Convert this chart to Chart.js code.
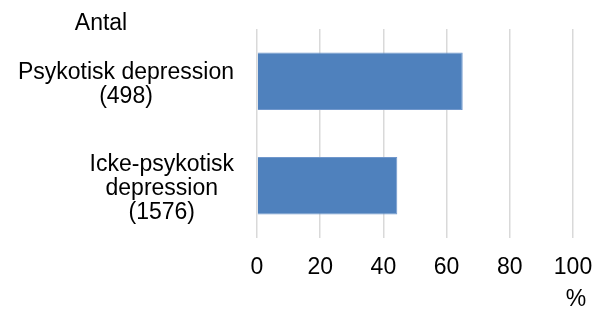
<!DOCTYPE html>
<html>
<head>
<meta charset="utf-8">
<script src="https://cdn.jsdelivr.net/npm/chart.js@4.4.1/dist/chart.umd.min.js"></script>
<style>
  html, body { margin: 0; padding: 0; background: #fff; }
  #wrap { width: 595px; height: 309px; }
</style>
</head>
<body>
<div id="wrap"><canvas id="grafico" width="595" height="309"></canvas></div>
<script>
// Kategorier (radbrytningar som i originalet)
const kategorier = [
    ['Psykotisk depression', '(498)'],
    ['Icke-psykotisk', 'depression', '(1576)']
];
const andelar = [65.1, 44.4];
const xTicks = [0, 20, 40, 60, 80, 100];
const titelY = 'Antal';
const titelX = '%';

const FONT = '"Liberation Sans", Arial, sans-serif';
const TEXTSTORLEK = 23;

// Ritar y-etiketterna: högerställda block, centrerade rader
const etiketter = {
    id: 'etiketter',
    afterDraw(chart) {
        const ctx = chart.ctx;
        const yScale = chart.scales.y;
        ctx.save();
        ctx.font = TEXTSTORLEK + 'px ' + FONT;
        ctx.fillStyle = '#000';
        ctx.textAlign = 'center';
        ctx.textBaseline = 'middle';
        const hoger = 234;
        const radhojd = 24;
        kategorier.forEach((rader, i) => {
            const yc = yScale.getPixelForTick(i);
            const maxB = Math.max(...rader.map(r => ctx.measureText(r).width));
            const cx = hoger - maxB / 2;
            const y0 = yc - (rader.length - 1) * radhojd / 2 + 3;
            rader.forEach((r, j) => ctx.fillText(r, cx, y0 + j * radhojd));
        });
        ctx.fillText(titelY, 101, 24);
        ctx.fillText(titelX, 576, 300);
        ctx.restore();
    }
};

new Chart(document.getElementById('grafico').getContext('2d'), {
    type: 'bar',
    data: {
        labels: kategorier,
        datasets: [{
            data: andelar,
            backgroundColor: '#4f81bd',
            borderColor: '#7097cc',
            borderWidth: 1,
            barPercentage: 0.55,
            categoryPercentage: 1
        }]
    },
    options: {
        indexAxis: 'y',
        responsive: false,
        animation: false,
        layout: { padding: { top: 29, right: 22, left: 0, bottom: 0 } },
        plugins: {
            legend: { display: false },
            tooltip: { enabled: false }
        },
        scales: {
            x: {
                min: 0,
                max: 100,
                afterBuildTicks: s => { s.ticks = xTicks.map(v => ({ value: v })); },
                afterFit: s => { s.height = 71; s.paddingLeft = 0; s.paddingRight = 0; },
                grid: { color: '#d9d9d9', lineWidth: 1.5, drawTicks: false },
                border: { display: false },
                ticks: {
                    color: '#000',
                    padding: 16,
                    font: { family: FONT, size: TEXTSTORLEK }
                }
            },
            y: {
                afterFit: s => { s.width = 257; },
                grid: { display: false },
                border: { display: false },
                ticks: { display: false }
            }
        }
    },
    plugins: [etiketter]
});
</script>
</body>
</html>
